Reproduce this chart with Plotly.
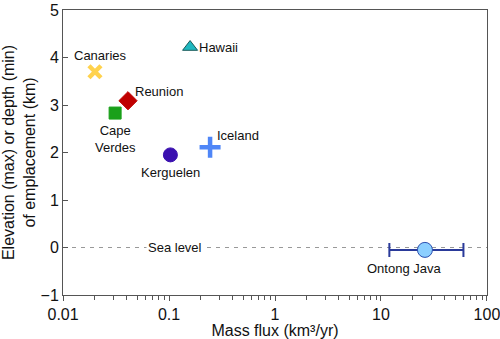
import math
import plotly.graph_objects as go

names = ["Canaries", "Hawaii", "Reunion", "Cape Verdes", "Kerguelen", "Iceland"]
flux = [0.02, 0.158, 0.041, 0.031, 0.103, 0.244]
elev = [3.7, 4.22, 3.09, 2.83, 1.95, 2.11]
symbols = ["x-thin", "triangle-up", "diamond", "square", "circle", "cross-thin"]
colors = ["#FFD24D", "#1FB8C0", "#C00000", "#1AA01A", "#3A10B0", "#4F86F7"]
sizes = [12, 13, 14, 12, 14, 15]

oj_flux = 26.0
oj_elev = -0.05
oj_low = 12.0
oj_high = 60.0

fig = go.Figure()

fig.add_shape(type="line", xref="paper", yref="y", x0=0, x1=1, y0=0, y1=0,
              line=dict(color="#999999", width=1, dash="4px,5px"), layer="below")

for n, fx, ev, s, c, sz in zip(names, flux, elev, symbols, colors, sizes):
    if s.endswith("thin"):
        marker = dict(symbol=s, size=sz, color=c, line=dict(color=c, width=4.5))
    else:
        marker = dict(symbol=s, size=sz, color=c,
                      line=dict(color="#1a5a5a" if n == "Hawaii" else c, width=1))
    fig.add_trace(go.Scatter(x=[fx], y=[ev], mode="markers", marker=marker, showlegend=False))

fig.add_trace(go.Scatter(
    x=[oj_flux], y=[oj_elev], mode="markers",
    marker=dict(symbol="circle", size=15, color="#8CCFFF", line=dict(color="#2B4FB0", width=1)),
    error_x=dict(type="data", symmetric=False, array=[oj_high - oj_flux],
                 arrayminus=[oj_flux - oj_low], color="#2A3A9A", thickness=2, width=7),
    showlegend=False))

font_ann = dict(family="Liberation Sans, Arial", size=13, color="#111111")
anns = [
    dict(x=0.0225, y=3.7, text="Canaries", xanchor="center", yanchor="bottom", yshift=7),
    dict(x=0.158, y=4.22, text="Hawaii", xanchor="left", yanchor="middle", xshift=7),
    dict(x=0.041, y=3.09, text="Reunion", xanchor="left", yanchor="bottom", xshift=5, yshift=0),
    dict(x=0.031, y=2.83, text="Cape<br>Verdes", xanchor="center", yanchor="top", yshift=-8),
    dict(x=0.244, y=2.11, text="Iceland", xanchor="left", yanchor="bottom", xshift=5, yshift=2),
    dict(x=0.103, y=1.95, text="Kerguelen", xanchor="center", yanchor="top", yshift=-8),
    dict(x=16.5, y=oj_elev, text="Ontong Java", xanchor="center", yanchor="top", yshift=-9),
    dict(x=0.114, y=0, text="Sea level", xanchor="center", yanchor="middle", bgcolor="white"),
]
for a in anns:
    fig.add_annotation(xref="x", yref="y", showarrow=False, font=font_ann,
                       xanchor=a["xanchor"], yanchor=a["yanchor"],
                       x=math.log10(a["x"]), y=a["y"], text=a["text"],
                       xshift=a.get("xshift", 0), yshift=a.get("yshift", 0),
                       bgcolor=a.get("bgcolor", "rgba(0,0,0,0)"), borderpad=1)

minor_vals = [m * 10 ** e for e in range(-2, 2) for m in range(2, 10)]

axis_font = dict(family="Liberation Sans, Arial", size=16, color="#111111")
fig.update_layout(
    width=500, height=339,
    margin=dict(l=63, r=13, t=10, b=44),
    plot_bgcolor="white", paper_bgcolor="white",
    xaxis=dict(type="log", range=[-2.0005, 2.0005], showgrid=False, zeroline=False,
               showline=True, mirror=True, linecolor="#555555", linewidth=1,
               ticks="outside", ticklen=5, tickcolor="#555555", automargin=False,
               ticklabeloverflow="allow",
               tickvals=[0.01, 0.1, 1, 10, 100], ticktext=["0.01", "0.1", "1", "10", "100"],
               tickfont=axis_font,
               minor=dict(ticks="outside", ticklen=4, tickcolor="#555555", showgrid=False,
                          tickvals=minor_vals),
               title=dict(text="Mass flux (km³/yr)", font=axis_font, standoff=2)),
    yaxis=dict(range=[-1, 5], showgrid=False, zeroline=False,
               showline=True, mirror=True, linecolor="#555555", linewidth=1,
               ticks="inside", ticklen=5, tickcolor="#555555", automargin=False,
               ticklabeloverflow="allow",
               tickvals=[-1, 0, 1, 2, 3, 4, 5], tickfont=axis_font,
               title=dict(text="Elevation (max) or depth (min)<br>of emplacement (km)",
                          font=axis_font, standoff=6)),
)

fig.write_html("out.html")
